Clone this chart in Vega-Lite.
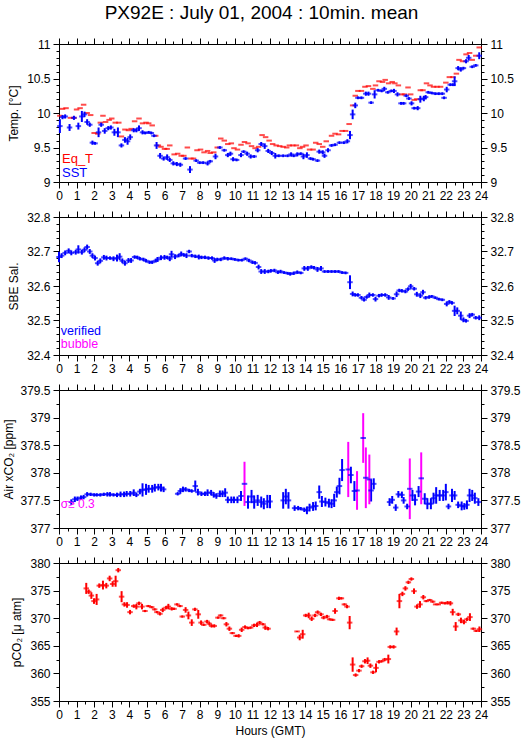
{
"$schema": "https://vega.github.io/schema/vega-lite/v6.json",
"title": {"text": "PX92E : July 01, 2004 : 10min. mean", "fontSize": 19, "fontWeight": "normal", "font": "Liberation Sans", "color": "black", "anchor": "middle", "offset": 14},
"padding": {"left": 2, "top": 4, "right": 5, "bottom": 2},
"spacing": 8,
"background": "white",
"datasets": {
"eqt": [
{"t":0.05,"v":9.96},{"t":0.2,"v":10.06},{"t":0.4,"v":10.07},{"t":0.65,"v":9.93},{"t":0.85,"v":9.93},{"t":1.0,"v":10.05},{"t":1.2,"v":10.07},{"t":1.4,"v":10.12},{"t":1.6,"v":10.0},{"t":1.8,"v":9.97},
{"t":2.0,"v":9.71},{"t":2.2,"v":9.7},{"t":2.35,"v":9.86},{"t":2.5,"v":9.96},{"t":2.65,"v":9.87},{"t":2.85,"v":9.9},{"t":3.0,"v":9.92},{"t":3.2,"v":9.86},{"t":3.4,"v":9.86},{"t":3.55,"v":9.66},
{"t":3.75,"v":9.76},{"t":3.95,"v":9.75},{"t":4.1,"v":9.77},{"t":4.3,"v":9.88},{"t":4.55,"v":9.92},{"t":4.75,"v":9.85},{"t":4.95,"v":9.86},{"t":5.1,"v":9.85},{"t":5.3,"v":9.82},{"t":5.5,"v":9.67},
{"t":5.65,"v":9.53},{"t":5.8,"v":9.51},{"t":6.0,"v":9.48},{"t":6.15,"v":9.48},{"t":6.3,"v":9.53},{"t":6.55,"v":9.4},{"t":6.75,"v":9.41},{"t":6.95,"v":9.38},{"t":7.1,"v":9.38},{"t":7.3,"v":9.5},
{"t":7.5,"v":9.34},{"t":7.65,"v":9.34},{"t":7.85,"v":9.46},{"t":8.05,"v":9.47},{"t":8.25,"v":9.43},{"t":8.45,"v":9.45},{"t":8.6,"v":9.42},{"t":8.8,"v":9.43},{"t":9.0,"v":9.5},{"t":9.2,"v":9.63},
{"t":9.4,"v":9.6},{"t":9.6,"v":9.55},{"t":9.8,"v":9.56},{"t":9.95,"v":9.49},{"t":10.15,"v":9.47},{"t":10.35,"v":9.54},{"t":10.55,"v":9.58},{"t":10.75,"v":9.56},{"t":10.95,"v":9.52},{"t":11.15,"v":9.49},
{"t":11.35,"v":9.51},{"t":11.55,"v":9.68},{"t":11.75,"v":9.65},{"t":11.95,"v":9.6},{"t":12.15,"v":9.55},{"t":12.35,"v":9.53},{"t":12.55,"v":9.52},{"t":12.75,"v":9.51},{"t":12.95,"v":9.5},{"t":13.1,"v":9.53},
{"t":13.3,"v":9.53},{"t":13.5,"v":9.53},{"t":13.7,"v":9.49},{"t":13.85,"v":9.51},{"t":14.05,"v":9.53},{"t":14.25,"v":9.47},{"t":14.45,"v":9.47},{"t":14.6,"v":9.57},{"t":14.8,"v":9.55},{"t":15.0,"v":9.51},
{"t":15.2,"v":9.59},{"t":15.5,"v":9.67},{"t":15.7,"v":9.7},{"t":15.9,"v":9.69},{"t":16.1,"v":9.74},{"t":16.3,"v":9.74},{"t":16.5,"v":9.84},{"t":16.7,"v":10.11},{"t":16.85,"v":10.25},{"t":17.0,"v":10.32},
{"t":17.2,"v":10.32},{"t":17.4,"v":10.38},{"t":17.6,"v":10.39},{"t":17.85,"v":10.35},{"t":18.0,"v":10.4},{"t":18.2,"v":10.46},{"t":18.4,"v":10.45},{"t":18.55,"v":10.48},{"t":18.75,"v":10.43},{"t":18.95,"v":10.45},
{"t":19.1,"v":10.43},{"t":19.3,"v":10.4},{"t":19.5,"v":10.27},{"t":19.65,"v":10.27},{"t":19.85,"v":10.37},{"t":20.0,"v":10.27},{"t":20.2,"v":10.19},{"t":20.35,"v":10.2},{"t":20.55,"v":10.33},{"t":20.7,"v":10.33},
{"t":20.9,"v":10.43},{"t":21.1,"v":10.4},{"t":21.3,"v":10.38},{"t":21.5,"v":10.38},{"t":21.7,"v":10.38},{"t":22.0,"v":10.44},{"t":22.2,"v":10.52},{"t":22.4,"v":10.52},{"t":22.6,"v":10.57},{"t":22.75,"v":10.77},
{"t":22.95,"v":10.75},{"t":23.15,"v":10.85},{"t":23.35,"v":10.87},{"t":23.5,"v":10.77},{"t":23.7,"v":10.83},{"t":23.9,"v":10.95}
],
"sst": [
{"t":0.05,"v":9.81,"e":0.1},{"t":0.2,"v":9.94,"e":0.03},{"t":0.35,"v":9.95,"e":0.03},{"t":0.6,"v":9.79,"e":0.05},{"t":0.85,"v":9.93,"e":0.03},{"t":1.1,"v":9.81,"e":0.05},{"t":1.3,"v":9.95,"e":0.08},{"t":1.45,"v":9.98,"e":0.04},{"t":1.6,"v":9.87,"e":0.04},{"t":1.75,"v":9.83,"e":0.03},
{"t":1.9,"v":9.57,"e":0.03},{"t":2.05,"v":9.56,"e":0.02},{"t":2.25,"v":9.72,"e":0.07},{"t":2.4,"v":9.83,"e":0.03},{"t":2.6,"v":9.74,"e":0.04},{"t":2.8,"v":9.78,"e":0.03},{"t":2.95,"v":9.79,"e":0.03},{"t":3.15,"v":9.72,"e":0.05},{"t":3.35,"v":9.72,"e":0.07},{"t":3.55,"v":9.53,"e":0.03},
{"t":3.75,"v":9.61,"e":0.04},{"t":3.9,"v":9.59,"e":0.05},{"t":4.05,"v":9.65,"e":0.04},{"t":4.25,"v":9.75,"e":0.03},{"t":4.4,"v":9.75,"e":0.03},{"t":4.55,"v":9.78,"e":0.04},{"t":4.75,"v":9.72,"e":0.03},{"t":4.9,"v":9.71,"e":0.02},{"t":5.1,"v":9.72,"e":0.02},{"t":5.25,"v":9.71,"e":0.02},
{"t":5.4,"v":9.67,"e":0.02},{"t":5.55,"v":9.53,"e":0.05},{"t":5.75,"v":9.38,"e":0.04},{"t":5.95,"v":9.34,"e":0.03},{"t":6.15,"v":9.36,"e":0.04},{"t":6.3,"v":9.32,"e":0.03},{"t":6.5,"v":9.27,"e":0.03},{"t":6.7,"v":9.26,"e":0.03},{"t":6.9,"v":9.25,"e":0.03},{"t":7.2,"v":9.34,"e":0.02},
{"t":7.45,"v":9.18,"e":0.05},{"t":7.8,"v":9.31,"e":0.02},{"t":8.0,"v":9.28,"e":0.02},{"t":8.2,"v":9.28,"e":0.02},{"t":8.45,"v":9.27,"e":0.03},{"t":8.6,"v":9.3,"e":0.02},{"t":8.9,"v":9.37,"e":0.04},{"t":9.15,"v":9.5,"e":0.02},{"t":9.4,"v":9.46,"e":0.02},{"t":9.6,"v":9.39,"e":0.03},
{"t":9.75,"v":9.41,"e":0.03},{"t":9.9,"v":9.33,"e":0.03},{"t":10.1,"v":9.32,"e":0.02},{"t":10.35,"v":9.39,"e":0.03},{"t":10.5,"v":9.44,"e":0.02},{"t":10.7,"v":9.41,"e":0.03},{"t":10.9,"v":9.37,"e":0.03},{"t":11.1,"v":9.37,"e":0.02},{"t":11.3,"v":9.46,"e":0.03},{"t":11.5,"v":9.55,"e":0.03},
{"t":11.7,"v":9.52,"e":0.04},{"t":11.9,"v":9.45,"e":0.03},{"t":12.1,"v":9.42,"e":0.03},{"t":12.3,"v":9.38,"e":0.04},{"t":12.5,"v":9.38,"e":0.02},{"t":12.75,"v":9.38,"e":0.02},{"t":13.0,"v":9.38,"e":0.02},{"t":13.2,"v":9.4,"e":0.03},{"t":13.35,"v":9.38,"e":0.02},{"t":13.55,"v":9.4,"e":0.03},
{"t":13.75,"v":9.41,"e":0.02},{"t":13.9,"v":9.37,"e":0.04},{"t":14.1,"v":9.39,"e":0.04},{"t":14.3,"v":9.34,"e":0.02},{"t":14.45,"v":9.33,"e":0.02},{"t":14.7,"v":9.31,"e":0.02},{"t":14.8,"v":9.44,"e":0.03},{"t":15.0,"v":9.43,"e":0.03},{"t":15.1,"v":9.38,"e":0.03},{"t":15.3,"v":9.46,"e":0.03},
{"t":15.5,"v":9.53,"e":0.02},{"t":15.7,"v":9.54,"e":0.02},{"t":15.95,"v":9.57,"e":0.02},{"t":16.2,"v":9.57,"e":0.02},{"t":16.4,"v":9.59,"e":0.03},{"t":16.55,"v":9.68,"e":0.06},{"t":16.7,"v":9.98,"e":0.07},{"t":16.85,"v":10.11,"e":0.04},{"t":17.0,"v":10.22,"e":0.02},{"t":17.2,"v":10.22,"e":0.02},
{"t":17.45,"v":10.28,"e":0.03},{"t":17.6,"v":10.28,"e":0.03},{"t":17.75,"v":10.15,"e":0.02},{"t":17.95,"v":10.27,"e":0.06},{"t":18.15,"v":10.33,"e":0.02},{"t":18.35,"v":10.32,"e":0.02},{"t":18.5,"v":10.35,"e":0.03},{"t":18.7,"v":10.3,"e":0.02},{"t":18.9,"v":10.32,"e":0.02},{"t":19.05,"v":10.32,"e":0.03},
{"t":19.25,"v":10.27,"e":0.03},{"t":19.45,"v":10.14,"e":0.02},{"t":19.6,"v":10.14,"e":0.02},{"t":19.75,"v":10.25,"e":0.02},{"t":19.9,"v":10.21,"e":0.02},{"t":20.05,"v":10.14,"e":0.03},{"t":20.2,"v":10.07,"e":0.02},{"t":20.4,"v":10.07,"e":0.03},{"t":20.55,"v":10.2,"e":0.05},{"t":20.75,"v":10.21,"e":0.04},
{"t":20.85,"v":10.23,"e":0.03},{"t":21.0,"v":10.3,"e":0.02},{"t":21.2,"v":10.29,"e":0.02},{"t":21.4,"v":10.28,"e":0.02},{"t":21.6,"v":10.28,"e":0.02},{"t":21.8,"v":10.28,"e":0.02},{"t":21.9,"v":10.22,"e":0.02},{"t":22.05,"v":10.34,"e":0.04},{"t":22.25,"v":10.41,"e":0.02},{"t":22.4,"v":10.41,"e":0.02},
{"t":22.5,"v":10.46,"e":0.07},{"t":22.7,"v":10.65,"e":0.03},{"t":22.85,"v":10.63,"e":0.03},{"t":23.0,"v":10.65,"e":0.02},{"t":23.15,"v":10.75,"e":0.03},{"t":23.3,"v":10.8,"e":0.04},{"t":23.5,"v":10.67,"e":0.02},{"t":23.7,"v":10.69,"e":0.02},{"t":23.9,"v":10.83,"e":0.05}
],
"sal": [
{"t":0.0,"v":32.684,"e":0.015},{"t":0.15,"v":32.688,"e":0.007},{"t":0.35,"v":32.696,"e":0.007},{"t":0.55,"v":32.702,"e":0.007},{"t":0.7,"v":32.696,"e":0.007},{"t":0.95,"v":32.698,"e":0.007},{"t":1.1,"v":32.706,"e":0.012},{"t":1.3,"v":32.698,"e":0.007},{"t":1.45,"v":32.705,"e":0.007},{"t":1.6,"v":32.713,"e":0.007},
{"t":1.75,"v":32.7,"e":0.007},{"t":1.9,"v":32.688,"e":0.007},{"t":2.05,"v":32.681,"e":0.007},{"t":2.2,"v":32.666,"e":0.007},{"t":2.35,"v":32.673,"e":0.007},{"t":2.55,"v":32.683,"e":0.007},{"t":2.7,"v":32.681,"e":0.007},{"t":2.9,"v":32.681,"e":0.005},{"t":3.1,"v":32.679,"e":0.007},{"t":3.3,"v":32.681,"e":0.01},
{"t":3.45,"v":32.685,"e":0.01},{"t":3.6,"v":32.673,"e":0.007},{"t":3.75,"v":32.666,"e":0.007},{"t":3.95,"v":32.674,"e":0.007},{"t":4.1,"v":32.674,"e":0.007},{"t":4.3,"v":32.684,"e":0.005},{"t":4.45,"v":32.683,"e":0.005},{"t":4.6,"v":32.679,"e":0.005},{"t":4.8,"v":32.677,"e":0.005},{"t":4.95,"v":32.673,"e":0.005},
{"t":5.15,"v":32.669,"e":0.005},{"t":5.3,"v":32.669,"e":0.005},{"t":5.5,"v":32.673,"e":0.005},{"t":5.6,"v":32.677,"e":0.007},{"t":5.8,"v":32.682,"e":0.007},{"t":6.0,"v":32.683,"e":0.007},{"t":6.15,"v":32.683,"e":0.005},{"t":6.3,"v":32.679,"e":0.007},{"t":6.4,"v":32.692,"e":0.01},{"t":6.6,"v":32.685,"e":0.007},
{"t":6.8,"v":32.688,"e":0.005},{"t":6.95,"v":32.693,"e":0.007},{"t":7.1,"v":32.69,"e":0.005},{"t":7.25,"v":32.688,"e":0.007},{"t":7.4,"v":32.7,"e":0.005},{"t":7.55,"v":32.688,"e":0.005},{"t":7.75,"v":32.686,"e":0.005},{"t":7.95,"v":32.684,"e":0.007},{"t":8.1,"v":32.683,"e":0.005},{"t":8.3,"v":32.683,"e":0.005},
{"t":8.5,"v":32.681,"e":0.005},{"t":8.7,"v":32.681,"e":0.005},{"t":8.85,"v":32.674,"e":0.007},{"t":9.0,"v":32.677,"e":0.005},{"t":9.2,"v":32.677,"e":0.005},{"t":9.4,"v":32.681,"e":0.005},{"t":9.6,"v":32.679,"e":0.005},{"t":9.8,"v":32.679,"e":0.004},{"t":10.0,"v":32.677,"e":0.004},{"t":10.2,"v":32.675,"e":0.004},
{"t":10.4,"v":32.675,"e":0.004},{"t":10.6,"v":32.679,"e":0.004},{"t":10.8,"v":32.674,"e":0.005},{"t":11.0,"v":32.669,"e":0.005},{"t":11.15,"v":32.667,"e":0.005},{"t":11.35,"v":32.655,"e":0.007},{"t":11.5,"v":32.642,"e":0.007},{"t":11.7,"v":32.642,"e":0.007},{"t":11.9,"v":32.642,"e":0.005},{"t":12.05,"v":32.644,"e":0.005},
{"t":12.25,"v":32.645,"e":0.005},{"t":12.45,"v":32.64,"e":0.005},{"t":12.6,"v":32.642,"e":0.005},{"t":12.8,"v":32.639,"e":0.004},{"t":13.0,"v":32.637,"e":0.004},{"t":13.15,"v":32.635,"e":0.005},{"t":13.35,"v":32.637,"e":0.005},{"t":13.55,"v":32.64,"e":0.005},{"t":13.75,"v":32.638,"e":0.004},{"t":13.95,"v":32.651,"e":0.007},
{"t":14.15,"v":32.651,"e":0.007},{"t":14.35,"v":32.655,"e":0.005},{"t":14.5,"v":32.653,"e":0.005},{"t":14.7,"v":32.648,"e":0.007},{"t":14.9,"v":32.651,"e":0.007},{"t":15.1,"v":32.642,"e":0.004},{"t":15.3,"v":32.642,"e":0.004},{"t":15.5,"v":32.642,"e":0.004},{"t":15.7,"v":32.642,"e":0.004},{"t":15.9,"v":32.642,"e":0.004},
{"t":16.1,"v":32.639,"e":0.004},{"t":16.3,"v":32.638,"e":0.004},{"t":16.55,"v":32.611,"e":0.02},{"t":16.7,"v":32.577,"e":0.007},{"t":16.85,"v":32.574,"e":0.005},{"t":17.0,"v":32.574,"e":0.005},{"t":17.2,"v":32.566,"e":0.005},{"t":17.35,"v":32.56,"e":0.005},{"t":17.5,"v":32.568,"e":0.005},{"t":17.65,"v":32.574,"e":0.007},
{"t":17.85,"v":32.574,"e":0.005},{"t":18.0,"v":32.562,"e":0.007},{"t":18.2,"v":32.572,"e":0.005},{"t":18.35,"v":32.574,"e":0.005},{"t":18.55,"v":32.574,"e":0.005},{"t":18.75,"v":32.567,"e":0.007},{"t":19.0,"v":32.564,"e":0.004},{"t":19.2,"v":32.576,"e":0.008},{"t":19.35,"v":32.587,"e":0.005},{"t":19.5,"v":32.586,"e":0.005},
{"t":19.7,"v":32.584,"e":0.005},{"t":19.85,"v":32.591,"e":0.005},{"t":20.0,"v":32.599,"e":0.007},{"t":20.2,"v":32.592,"e":0.005},{"t":20.35,"v":32.576,"e":0.007},{"t":20.55,"v":32.572,"e":0.007},{"t":20.7,"v":32.582,"e":0.007},{"t":20.85,"v":32.566,"e":0.005},{"t":21.05,"v":32.568,"e":0.005},{"t":21.2,"v":32.57,"e":0.004},
{"t":21.4,"v":32.566,"e":0.004},{"t":21.6,"v":32.562,"e":0.004},{"t":21.8,"v":32.56,"e":0.004},{"t":22.05,"v":32.548,"e":0.007},{"t":22.2,"v":32.554,"e":0.005},{"t":22.35,"v":32.551,"e":0.005},{"t":22.5,"v":32.528,"e":0.015},{"t":22.65,"v":32.528,"e":0.01},{"t":22.85,"v":32.514,"e":0.012},{"t":23.0,"v":32.502,"e":0.007},
{"t":23.15,"v":32.499,"e":0.005},{"t":23.35,"v":32.514,"e":0.007},{"t":23.5,"v":32.517,"e":0.005},{"t":23.7,"v":32.508,"e":0.005},{"t":23.9,"v":32.508,"e":0.007}
],
"xco2": [
{"t":0.7,"v":377.47,"e":0.05,"f":0},{"t":0.9,"v":377.52,"e":0.05,"f":0},{"t":1.05,"v":377.53,"e":0.04,"f":0},{"t":1.25,"v":377.55,"e":0.04,"f":0},{"t":1.4,"v":377.56,"e":0.04,"f":0},{"t":1.6,"v":377.61,"e":0.04,"f":0},{"t":1.8,"v":377.61,"e":0.03,"f":0},{"t":2.0,"v":377.6,"e":0.03,"f":0},{"t":2.15,"v":377.6,"e":0.03,"f":0},{"t":2.35,"v":377.6,"e":0.03,"f":0},
{"t":2.55,"v":377.61,"e":0.03,"f":0},{"t":2.75,"v":377.61,"e":0.04,"f":0},{"t":2.9,"v":377.61,"e":0.04,"f":0},{"t":3.1,"v":377.6,"e":0.03,"f":0},{"t":3.3,"v":377.6,"e":0.04,"f":0},{"t":3.5,"v":377.61,"e":0.05,"f":0},{"t":3.7,"v":377.61,"e":0.05,"f":0},{"t":3.85,"v":377.62,"e":0.05,"f":0},{"t":4.05,"v":377.62,"e":0.05,"f":0},{"t":4.25,"v":377.64,"e":0.06,"f":0},
{"t":4.4,"v":377.6,"e":0.04,"f":0},{"t":4.6,"v":377.66,"e":0.05,"f":0},{"t":4.75,"v":377.69,"e":0.12,"f":0},{"t":4.95,"v":377.7,"e":0.1,"f":0},{"t":5.1,"v":377.71,"e":0.07,"f":0},{"t":5.3,"v":377.71,"e":0.07,"f":0},{"t":5.45,"v":377.73,"e":0.07,"f":0},{"t":5.65,"v":377.74,"e":0.06,"f":0},{"t":5.8,"v":377.73,"e":0.07,"f":0},{"t":5.95,"v":377.7,"e":0.05,"f":0},
{"t":6.75,"v":377.62,"e":0.03,"f":0},{"t":6.9,"v":377.67,"e":0.05,"f":0},{"t":7.05,"v":377.7,"e":0.05,"f":0},{"t":7.2,"v":377.7,"e":0.04,"f":0},{"t":7.4,"v":377.68,"e":0.03,"f":0},{"t":7.55,"v":377.67,"e":0.03,"f":0},{"t":7.75,"v":377.76,"e":0.1,"f":0},{"t":7.9,"v":377.65,"e":0.06,"f":0},{"t":8.1,"v":377.62,"e":0.04,"f":0},{"t":8.3,"v":377.62,"e":0.04,"f":0},
{"t":8.45,"v":377.64,"e":0.06,"f":0},{"t":8.65,"v":377.64,"e":0.05,"f":0},{"t":8.8,"v":377.6,"e":0.05,"f":0},{"t":8.95,"v":377.58,"e":0.05,"f":0},{"t":9.15,"v":377.62,"e":0.06,"f":0},{"t":9.3,"v":377.62,"e":0.06,"f":0},{"t":9.45,"v":377.64,"e":0.08,"f":0},{"t":9.6,"v":377.51,"e":0.06,"f":0},{"t":9.8,"v":377.51,"e":0.06,"f":0},{"t":9.95,"v":377.51,"e":0.06,"f":0},
{"t":10.15,"v":377.51,"e":0.06,"f":0},{"t":10.35,"v":377.58,"e":0.09,"f":0},{"t":10.55,"v":377.8,"e":0.4,"f":1},{"t":10.75,"v":377.47,"e":0.12,"f":0},{"t":10.95,"v":377.57,"e":0.12,"f":0},{"t":11.1,"v":377.47,"e":0.12,"f":0},{"t":11.3,"v":377.5,"e":0.1,"f":0},{"t":11.5,"v":377.47,"e":0.1,"f":0},{"t":11.65,"v":377.44,"e":0.1,"f":0},{"t":11.85,"v":377.48,"e":0.12,"f":0},
{"t":12.0,"v":377.48,"e":0.12,"f":0},{"t":12.75,"v":377.5,"e":0.15,"f":0},{"t":12.9,"v":377.57,"e":0.14,"f":0},{"t":13.05,"v":377.5,"e":0.15,"f":0},{"t":13.4,"v":377.36,"e":0.05,"f":0},{"t":13.6,"v":377.36,"e":0.04,"f":0},{"t":13.75,"v":377.35,"e":0.03,"f":0},{"t":13.95,"v":377.33,"e":0.04,"f":0},{"t":14.1,"v":377.32,"e":0.07,"f":0},{"t":14.25,"v":377.37,"e":0.07,"f":0},
{"t":14.45,"v":377.39,"e":0.08,"f":0},{"t":14.6,"v":377.4,"e":0.08,"f":0},{"t":14.8,"v":377.65,"e":0.12,"f":0},{"t":14.95,"v":377.48,"e":0.1,"f":0},{"t":15.15,"v":377.47,"e":0.08,"f":0},{"t":15.35,"v":377.45,"e":0.08,"f":0},{"t":15.5,"v":377.44,"e":0.08,"f":0},{"t":15.65,"v":377.5,"e":0.12,"f":0},{"t":15.8,"v":377.65,"e":0.1,"f":0},{"t":15.95,"v":377.76,"e":0.15,"f":0},
{"t":16.1,"v":378.05,"e":0.2,"f":0},{"t":16.45,"v":378.06,"e":0.5,"f":1},{"t":16.6,"v":377.96,"e":0.15,"f":0},{"t":16.8,"v":377.67,"e":0.18,"f":0},{"t":16.95,"v":377.68,"e":0.35,"f":1},{"t":17.3,"v":378.63,"e":0.45,"f":1},{"t":17.45,"v":377.91,"e":0.55,"f":1},{"t":17.65,"v":377.88,"e":0.45,"f":1},{"t":17.75,"v":377.68,"e":0.2,"f":0},{"t":17.9,"v":377.8,"e":0.1,"f":0},
{"t":18.8,"v":377.47,"e":0.07,"f":0},{"t":18.95,"v":377.51,"e":0.07,"f":0},{"t":19.15,"v":377.37,"e":0.06,"f":0},{"t":19.3,"v":377.61,"e":0.06,"f":0},{"t":19.5,"v":377.6,"e":0.06,"f":0},{"t":19.6,"v":377.5,"e":0.06,"f":0},{"t":19.8,"v":377.39,"e":0.05,"f":0},{"t":19.95,"v":377.71,"e":0.55,"f":1},{"t":20.1,"v":377.59,"e":0.1,"f":0},{"t":20.25,"v":377.51,"e":0.1,"f":0},
{"t":20.45,"v":377.66,"e":0.1,"f":0},{"t":20.6,"v":377.9,"e":0.47,"f":1},{"t":20.8,"v":377.53,"e":0.1,"f":0},{"t":20.95,"v":377.44,"e":0.1,"f":0},{"t":21.15,"v":377.44,"e":0.1,"f":0},{"t":21.3,"v":377.54,"e":0.1,"f":0},{"t":21.45,"v":377.59,"e":0.15,"f":0},{"t":21.65,"v":377.59,"e":0.1,"f":0},{"t":21.85,"v":377.59,"e":0.1,"f":0},{"t":22.0,"v":377.65,"e":0.15,"f":0},
{"t":22.15,"v":377.39,"e":0.05,"f":0},{"t":22.35,"v":377.59,"e":0.12,"f":0},{"t":22.5,"v":377.59,"e":0.08,"f":0},{"t":22.7,"v":377.42,"e":0.06,"f":0},{"t":22.9,"v":377.4,"e":0.08,"f":0},{"t":23.05,"v":377.39,"e":0.06,"f":0},{"t":23.2,"v":377.42,"e":0.08,"f":0},{"t":23.35,"v":377.59,"e":0.12,"f":0},{"t":23.5,"v":377.59,"e":0.1,"f":0},{"t":23.65,"v":377.54,"e":0.1,"f":0},
{"t":23.85,"v":377.47,"e":0.07,"f":0}
],
"pco2": [
{"t":1.55,"v":375.4,"e":1.0},{"t":1.69,"v":374.8,"e":0.4},{"t":1.84,"v":374.1,"e":0.6},{"t":1.99,"v":373.1,"e":0.5},{"t":2.14,"v":373.4,"e":1.0},{"t":2.29,"v":375.9,"e":0.4},{"t":2.5,"v":376.0,"e":0.8},{"t":2.69,"v":375.9,"e":0.5},{"t":2.88,"v":377.2,"e":0.5},{"t":3.05,"v":376.2,"e":0.5},
{"t":3.22,"v":376.7,"e":1.0},{"t":3.37,"v":378.7,"e":0.4},{"t":3.56,"v":373.9,"e":1.0},{"t":3.72,"v":372.5,"e":0.4},{"t":3.87,"v":372.4,"e":0.5},{"t":4.04,"v":371.1,"e":0.4},{"t":4.25,"v":372.2,"e":0.3},{"t":4.4,"v":372.1,"e":0.5},{"t":4.55,"v":372.7,"e":0.3},{"t":4.72,"v":372.1,"e":0.5},
{"t":4.89,"v":371.3,"e":0.2},{"t":5.08,"v":372.2,"e":0.2},{"t":5.27,"v":372.0,"e":0.2},{"t":5.44,"v":371.6,"e":0.2},{"t":5.57,"v":371.1,"e":0.2},{"t":5.74,"v":370.8,"e":0.3},{"t":5.9,"v":371.5,"e":0.4},{"t":6.09,"v":371.9,"e":0.3},{"t":6.22,"v":372.1,"e":0.5},{"t":6.41,"v":371.7,"e":0.3},
{"t":6.54,"v":371.7,"e":0.2},{"t":6.71,"v":372.5,"e":0.2},{"t":6.88,"v":372.2,"e":0.2},{"t":7.01,"v":370.3,"e":0.2},{"t":7.2,"v":371.5,"e":0.5},{"t":7.36,"v":370.5,"e":0.7},{"t":7.55,"v":369.2,"e":0.6},{"t":7.73,"v":371.6,"e":0.3},{"t":7.92,"v":370.7,"e":0.8},{"t":8.08,"v":369.2,"e":0.4},
{"t":8.23,"v":368.8,"e":0.2},{"t":8.42,"v":369.4,"e":0.3},{"t":8.55,"v":369.0,"e":0.3},{"t":8.68,"v":368.6,"e":0.3},{"t":8.83,"v":368.6,"e":0.3},{"t":9.04,"v":370.1,"e":0.2},{"t":9.19,"v":370.5,"e":0.2},{"t":9.36,"v":370.0,"e":0.2},{"t":9.52,"v":368.9,"e":0.4},{"t":9.69,"v":368.1,"e":0.4},
{"t":9.86,"v":367.3,"e":0.2},{"t":10.07,"v":366.8,"e":0.2},{"t":10.22,"v":366.8,"e":0.3},{"t":10.39,"v":367.9,"e":0.4},{"t":10.58,"v":368.4,"e":0.3},{"t":10.75,"v":368.2,"e":0.2},{"t":10.9,"v":368.3,"e":0.2},{"t":11.09,"v":368.7,"e":0.3},{"t":11.26,"v":368.8,"e":0.4},{"t":11.41,"v":369.2,"e":0.3},
{"t":11.6,"v":368.9,"e":0.2},{"t":11.73,"v":368.3,"e":0.4},{"t":11.89,"v":368.1,"e":0.3},{"t":13.54,"v":367.6,"e":0.1},{"t":13.69,"v":366.5,"e":0.5},{"t":13.86,"v":367.1,"e":0.8},{"t":14.03,"v":370.5,"e":0.3},{"t":14.2,"v":370.5,"e":0.5},{"t":14.37,"v":369.9,"e":0.4},{"t":14.56,"v":370.5,"e":0.3},
{"t":14.71,"v":371.1,"e":0.3},{"t":14.9,"v":370.7,"e":0.3},{"t":15.05,"v":370.1,"e":0.3},{"t":15.24,"v":370.3,"e":0.3},{"t":15.39,"v":369.8,"e":0.2},{"t":15.56,"v":369.7,"e":0.2},{"t":15.7,"v":371.3,"e":0.5},{"t":15.92,"v":373.6,"e":0.3},{"t":16.06,"v":373.6,"e":0.2},{"t":16.23,"v":372.5,"e":0.2},
{"t":16.38,"v":372.1,"e":0.3},{"t":16.53,"v":369.2,"e":1.2},{"t":16.7,"v":361.6,"e":1.3},{"t":16.87,"v":359.7,"e":0.3},{"t":17.06,"v":360.5,"e":0.3},{"t":17.21,"v":361.3,"e":0.3},{"t":17.4,"v":362.2,"e":0.4},{"t":17.55,"v":362.3,"e":0.6},{"t":17.71,"v":361.4,"e":0.4},{"t":17.86,"v":360.2,"e":0.3},
{"t":18.03,"v":361.0,"e":0.8},{"t":18.2,"v":362.1,"e":0.3},{"t":18.35,"v":362.2,"e":0.2},{"t":18.52,"v":362.5,"e":0.3},{"t":18.73,"v":362.6,"e":0.8},{"t":18.84,"v":364.8,"e":0.3},{"t":19.03,"v":364.8,"e":0.3},{"t":19.2,"v":367.6,"e":0.7},{"t":19.36,"v":373.1,"e":1.3},{"t":19.53,"v":374.4,"e":0.4},
{"t":19.7,"v":375.4,"e":0.4},{"t":19.87,"v":376.5,"e":0.3},{"t":20.04,"v":377.1,"e":0.3},{"t":20.19,"v":374.9,"e":0.5},{"t":20.36,"v":372.1,"e":0.4},{"t":20.53,"v":372.5,"e":0.6},{"t":20.72,"v":373.8,"e":0.4},{"t":20.89,"v":373.1,"e":0.2},{"t":21.08,"v":373.3,"e":0.2},{"t":21.25,"v":373.0,"e":0.2},
{"t":21.42,"v":372.5,"e":0.1},{"t":21.57,"v":372.5,"e":0.1},{"t":21.76,"v":372.8,"e":0.2},{"t":21.95,"v":372.7,"e":0.2},{"t":22.1,"v":372.8,"e":0.3},{"t":22.26,"v":372.7,"e":0.4},{"t":22.39,"v":371.1,"e":0.6},{"t":22.56,"v":368.5,"e":0.8},{"t":22.71,"v":370.7,"e":0.3},{"t":22.86,"v":369.6,"e":0.5},
{"t":23.03,"v":369.3,"e":0.4},{"t":23.2,"v":369.8,"e":0.3},{"t":23.37,"v":370.2,"e":0.7},{"t":23.56,"v":368.1,"e":0.2},{"t":23.73,"v":367.7,"e":0.2},{"t":23.91,"v":368.0,"e":0.5}
]
},
"vconcat": [
{
"width": 422, "height": 138,
"resolve": {"axis": {"x": "independent", "y": "independent"}},
"layer": [
{"data": {"name": "eqt"}, "mark": {"type": "tick", "orient": "horizontal", "color": "#ff0000", "size": 5.5, "thickness": 2},
 "encoding": {
  "x": {"field": "t", "type": "quantitative", "scale": {"domain": [0, 24], "nice": false, "zero": false},
        "axis": {"orient": "bottom", "values": [0,0.5,1,1.5,2,2.5,3,3.5,4,4.5,5,5.5,6,6.5,7,7.5,8,8.5,9,9.5,10,10.5,11,11.5,12,12.5,13,13.5,14,14.5,15,15.5,16,16.5,17,17.5,18,18.5,19,19.5,20,20.5,21,21.5,22,22.5,23,23.5,24], "tickSize": {"condition": {"test": "datum.value % 1 === 0", "value": 6}, "value": 3}, "labelExpr": "datum.value % 1 === 0 ? format(datum.value,'d') : ''", "labelFlush": false, "labelOverlap": false, "labelPadding": 2, "title": null}},
  "y": {"field": "v", "type": "quantitative", "scale": {"domain": [9, 11], "nice": false, "zero": false},
        "axis": {"orient": "left", "values": [9,9.1,9.2,9.3,9.4,9.5,9.6,9.7,9.8,9.9,10,10.1,10.2,10.3,10.4,10.5,10.6,10.7,10.8,10.9,11], "tickSize": {"condition": {"test": "abs(datum.value*2-round(datum.value*2))<0.001", "value": 6}, "value": 3}, "labelExpr": "abs(datum.value*2-round(datum.value*2))<0.001 ? format(datum.value,'~g') : ''", "labelFlush": false, "labelOverlap": false, "labelPadding": 3, "title": "Temp. [°C]", "titlePadding": 6}}
 }},
{"data": {"name": "sst"}, "mark": {"type": "errorbar", "color": "#0000ff", "thickness": 2},
 "encoding": {"x": {"field": "t", "type": "quantitative", "axis": null}, "y": {"field": "v", "type": "quantitative", "axis": null}, "yError": {"field": "e"}}},
{"data": {"name": "sst"}, "mark": {"type": "tick", "orient": "horizontal", "color": "#0000ff", "size": 5.5, "thickness": 2},
 "encoding": {
  "x": {"field": "t", "type": "quantitative", "axis": {"orient": "top", "values": [0,0.5,1,1.5,2,2.5,3,3.5,4,4.5,5,5.5,6,6.5,7,7.5,8,8.5,9,9.5,10,10.5,11,11.5,12,12.5,13,13.5,14,14.5,15,15.5,16,16.5,17,17.5,18,18.5,19,19.5,20,20.5,21,21.5,22,22.5,23,23.5,24], "tickSize": {"condition": {"test": "datum.value % 1 === 0", "value": 6}, "value": 3}, "labels": false, "title": null}},
  "y": {"field": "v", "type": "quantitative", "axis": {"orient": "right", "values": [9,9.1,9.2,9.3,9.4,9.5,9.6,9.7,9.8,9.9,10,10.1,10.2,10.3,10.4,10.5,10.6,10.7,10.8,10.9,11], "tickSize": {"condition": {"test": "abs(datum.value*2-round(datum.value*2))<0.001", "value": 6}, "value": 3}, "labelExpr": "abs(datum.value*2-round(datum.value*2))<0.001 ? format(datum.value,'~g') : ''", "labelFlush": false, "labelOverlap": false, "labelPadding": 3, "title": null}}
 }},
{"data": {"values": [{}]}, "mark": {"type": "text", "text": "Eq_T", "align": "left", "baseline": "alphabetic", "color": "#ff0000", "fontSize": 13, "font": "Liberation Sans"},
 "encoding": {"x": {"datum": 0.17, "type": "quantitative", "axis": null}, "y": {"datum": 9.28, "type": "quantitative", "axis": null}}},
{"data": {"values": [{}]}, "mark": {"type": "text", "text": "SST", "align": "left", "baseline": "alphabetic", "color": "#0000ff", "fontSize": 13, "font": "Liberation Sans"},
 "encoding": {"x": {"datum": 0.17, "type": "quantitative", "axis": null}, "y": {"datum": 9.07, "type": "quantitative", "axis": null}}}
]
},
{
"width": 422, "height": 138,
"resolve": {"axis": {"x": "independent", "y": "independent"}},
"layer": [
{"data": {"name": "sal"}, "mark": {"type": "errorbar", "color": "#0000ff", "thickness": 2},
 "encoding": {"x": {"field": "t", "type": "quantitative", "scale": {"domain": [0, 24], "nice": false, "zero": false}, "axis": null}, "y": {"field": "v", "type": "quantitative", "scale": {"domain": [32.4, 32.8], "nice": false, "zero": false}, "axis": null}, "yError": {"field": "e"}}},
{"data": {"name": "sal"}, "mark": {"type": "tick", "orient": "horizontal", "color": "#0000ff", "size": 5.5, "thickness": 2},
 "encoding": {
  "x": {"field": "t", "type": "quantitative", "axis": {"orient": "bottom", "values": [0,0.5,1,1.5,2,2.5,3,3.5,4,4.5,5,5.5,6,6.5,7,7.5,8,8.5,9,9.5,10,10.5,11,11.5,12,12.5,13,13.5,14,14.5,15,15.5,16,16.5,17,17.5,18,18.5,19,19.5,20,20.5,21,21.5,22,22.5,23,23.5,24], "tickSize": {"condition": {"test": "datum.value % 1 === 0", "value": 6}, "value": 3}, "labelExpr": "datum.value % 1 === 0 ? format(datum.value,'d') : ''", "labelFlush": false, "labelOverlap": false, "labelPadding": 2, "title": null}},
  "y": {"field": "v", "type": "quantitative", "axis": {"orient": "left", "values": [32.4,32.42,32.44,32.46,32.48,32.5,32.52,32.54,32.56,32.58,32.6,32.62,32.64,32.66,32.68,32.7,32.72,32.74,32.76,32.78,32.8], "tickSize": {"condition": {"test": "abs(datum.value*10-round(datum.value*10))<0.001", "value": 6}, "value": 3}, "labelExpr": "abs(datum.value*10-round(datum.value*10))<0.001 ? format(datum.value,'~g') : ''", "labelFlush": false, "labelOverlap": false, "labelPadding": 3, "title": "SBE Sal.", "titlePadding": 6}}
 }},
{"data": {"name": "sal"}, "mark": {"type": "tick", "orient": "horizontal", "color": "#0000ff", "size": 5.5, "thickness": 2, "opacity": 0},
 "encoding": {
  "x": {"field": "t", "type": "quantitative", "axis": {"orient": "top", "values": [0,0.5,1,1.5,2,2.5,3,3.5,4,4.5,5,5.5,6,6.5,7,7.5,8,8.5,9,9.5,10,10.5,11,11.5,12,12.5,13,13.5,14,14.5,15,15.5,16,16.5,17,17.5,18,18.5,19,19.5,20,20.5,21,21.5,22,22.5,23,23.5,24], "tickSize": {"condition": {"test": "datum.value % 1 === 0", "value": 6}, "value": 3}, "labels": false, "title": null}},
  "y": {"field": "v", "type": "quantitative", "axis": {"orient": "right", "values": [32.4,32.42,32.44,32.46,32.48,32.5,32.52,32.54,32.56,32.58,32.6,32.62,32.64,32.66,32.68,32.7,32.72,32.74,32.76,32.78,32.8], "tickSize": {"condition": {"test": "abs(datum.value*10-round(datum.value*10))<0.001", "value": 6}, "value": 3}, "labelExpr": "abs(datum.value*10-round(datum.value*10))<0.001 ? format(datum.value,'~g') : ''", "labelFlush": false, "labelOverlap": false, "labelPadding": 3, "title": null}}
 }},
{"data": {"values": [{}]}, "mark": {"type": "text", "text": "verified", "align": "left", "baseline": "alphabetic", "color": "#0000ff", "fontSize": 12.5, "font": "Liberation Sans"},
 "encoding": {"x": {"datum": 0.1, "type": "quantitative", "axis": null}, "y": {"datum": 32.459, "type": "quantitative", "axis": null}}},
{"data": {"values": [{}]}, "mark": {"type": "text", "text": "bubble", "align": "left", "baseline": "alphabetic", "color": "#ff00ff", "fontSize": 12.5, "font": "Liberation Sans"},
 "encoding": {"x": {"datum": 0.1, "type": "quantitative", "axis": null}, "y": {"datum": 32.42, "type": "quantitative", "axis": null}}}
]
},
{
"width": 422, "height": 138,
"resolve": {"axis": {"x": "independent", "y": "independent"}},
"layer": [
{"data": {"name": "xco2"}, "transform": [{"filter": "datum.f == 0"}], "mark": {"type": "errorbar", "color": "#0000ff", "thickness": 2},
 "encoding": {"x": {"field": "t", "type": "quantitative", "scale": {"domain": [0, 24], "nice": false, "zero": false}, "axis": null}, "y": {"field": "v", "type": "quantitative", "scale": {"domain": [377, 379.5], "nice": false, "zero": false}, "axis": null}, "yError": {"field": "e"}}},
{"data": {"name": "xco2"}, "transform": [{"filter": "datum.f == 1"}], "mark": {"type": "errorbar", "color": "#ff00ff", "thickness": 2},
 "encoding": {"x": {"field": "t", "type": "quantitative", "axis": null}, "y": {"field": "v", "type": "quantitative", "axis": null}, "yError": {"field": "e"}}},
{"data": {"name": "xco2"}, "mark": {"type": "tick", "orient": "horizontal", "color": "#0000ff", "size": 5.5, "thickness": 2},
 "encoding": {
  "x": {"field": "t", "type": "quantitative", "axis": {"orient": "bottom", "values": [0,0.5,1,1.5,2,2.5,3,3.5,4,4.5,5,5.5,6,6.5,7,7.5,8,8.5,9,9.5,10,10.5,11,11.5,12,12.5,13,13.5,14,14.5,15,15.5,16,16.5,17,17.5,18,18.5,19,19.5,20,20.5,21,21.5,22,22.5,23,23.5,24], "tickSize": {"condition": {"test": "datum.value % 1 === 0", "value": 6}, "value": 3}, "labelExpr": "datum.value % 1 === 0 ? format(datum.value,'d') : ''", "labelFlush": false, "labelOverlap": false, "labelPadding": 2, "title": null}},
  "y": {"field": "v", "type": "quantitative", "axis": {"orient": "left", "values": [377,377.25,377.5,377.75,378,378.25,378.5,378.75,379,379.25,379.5], "tickSize": {"condition": {"test": "abs(datum.value*2-round(datum.value*2))<0.001", "value": 6}, "value": 3}, "labelExpr": "abs(datum.value*2-round(datum.value*2))<0.001 ? format(datum.value,'~g') : ''", "labelFlush": false, "labelOverlap": false, "labelPadding": 3, "title": "Air xCO₂ [ppm]", "titlePadding": 4}}
 }},
{"data": {"name": "xco2"}, "mark": {"type": "tick", "orient": "horizontal", "color": "#0000ff", "size": 5.5, "thickness": 2, "opacity": 0},
 "encoding": {
  "x": {"field": "t", "type": "quantitative", "axis": {"orient": "top", "values": [0,0.5,1,1.5,2,2.5,3,3.5,4,4.5,5,5.5,6,6.5,7,7.5,8,8.5,9,9.5,10,10.5,11,11.5,12,12.5,13,13.5,14,14.5,15,15.5,16,16.5,17,17.5,18,18.5,19,19.5,20,20.5,21,21.5,22,22.5,23,23.5,24], "tickSize": {"condition": {"test": "datum.value % 1 === 0", "value": 6}, "value": 3}, "labels": false, "title": null}},
  "y": {"field": "v", "type": "quantitative", "axis": {"orient": "right", "values": [377,377.25,377.5,377.75,378,378.25,378.5,378.75,379,379.25,379.5], "tickSize": {"condition": {"test": "abs(datum.value*2-round(datum.value*2))<0.001", "value": 6}, "value": 3}, "labelExpr": "abs(datum.value*2-round(datum.value*2))<0.001 ? format(datum.value,'~g') : ''", "labelFlush": false, "labelOverlap": false, "labelPadding": 3, "title": null}}
 }},
{"data": {"values": [{}]}, "mark": {"type": "text", "text": "σ≥ 0.3", "align": "left", "baseline": "alphabetic", "color": "#ff00ff", "fontSize": 12, "font": "Liberation Sans"},
 "encoding": {"x": {"datum": 0.1, "type": "quantitative", "axis": null}, "y": {"datum": 377.36, "type": "quantitative", "axis": null}}}
]
},
{
"width": 422, "height": 138,
"resolve": {"axis": {"x": "independent", "y": "independent"}},
"layer": [
{"data": {"name": "pco2"}, "mark": {"type": "errorbar", "color": "#ff0000", "thickness": 2},
 "encoding": {"x": {"field": "t", "type": "quantitative", "scale": {"domain": [0, 24], "nice": false, "zero": false}, "axis": null}, "y": {"field": "v", "type": "quantitative", "scale": {"domain": [355, 380], "nice": false, "zero": false}, "axis": null}, "yError": {"field": "e"}}},
{"data": {"name": "pco2"}, "mark": {"type": "tick", "orient": "horizontal", "color": "#ff0000", "size": 5.5, "thickness": 2},
 "encoding": {
  "x": {"field": "t", "type": "quantitative", "axis": {"orient": "bottom", "values": [0,0.5,1,1.5,2,2.5,3,3.5,4,4.5,5,5.5,6,6.5,7,7.5,8,8.5,9,9.5,10,10.5,11,11.5,12,12.5,13,13.5,14,14.5,15,15.5,16,16.5,17,17.5,18,18.5,19,19.5,20,20.5,21,21.5,22,22.5,23,23.5,24], "tickSize": {"condition": {"test": "datum.value % 1 === 0", "value": 6}, "value": 3}, "labelExpr": "datum.value % 1 === 0 ? format(datum.value,'d') : ''", "labelFlush": false, "labelOverlap": false, "labelPadding": 2, "title": "Hours (GMT)", "titlePadding": 5}},
  "y": {"field": "v", "type": "quantitative", "axis": {"orient": "left", "values": [355,357.5,360,362.5,365,367.5,370,372.5,375,377.5,380], "tickSize": {"condition": {"test": "abs(datum.value/5-round(datum.value/5))<0.001", "value": 6}, "value": 3}, "labelExpr": "abs(datum.value/5-round(datum.value/5))<0.001 ? format(datum.value,'~g') : ''", "labelFlush": false, "labelOverlap": false, "labelPadding": 3, "title": "pCO₂ [μ atm]", "titlePadding": 6}}
 }},
{"data": {"name": "pco2"}, "mark": {"type": "tick", "orient": "horizontal", "color": "#ff0000", "size": 5.5, "thickness": 2, "opacity": 0},
 "encoding": {
  "x": {"field": "t", "type": "quantitative", "axis": {"orient": "top", "values": [0,0.5,1,1.5,2,2.5,3,3.5,4,4.5,5,5.5,6,6.5,7,7.5,8,8.5,9,9.5,10,10.5,11,11.5,12,12.5,13,13.5,14,14.5,15,15.5,16,16.5,17,17.5,18,18.5,19,19.5,20,20.5,21,21.5,22,22.5,23,23.5,24], "tickSize": {"condition": {"test": "datum.value % 1 === 0", "value": 6}, "value": 3}, "labels": false, "title": null}},
  "y": {"field": "v", "type": "quantitative", "axis": {"orient": "right", "values": [355,357.5,360,362.5,365,367.5,370,372.5,375,377.5,380], "tickSize": {"condition": {"test": "abs(datum.value/5-round(datum.value/5))<0.001", "value": 6}, "value": 3}, "labelExpr": "abs(datum.value/5-round(datum.value/5))<0.001 ? format(datum.value,'~g') : ''", "labelFlush": false, "labelOverlap": false, "labelPadding": 3, "title": null}}
 }}
]
}
],
"config": {
"view": {"stroke": "black", "strokeWidth": 1},
"axis": {"labelFont": "Liberation Sans", "labelFontSize": 12, "labelColor": "black", "titleFont": "Liberation Sans", "titleFontSize": 12, "titleFontWeight": "normal", "titleColor": "black", "domainColor": "black", "tickColor": "black", "grid": false}
}
}
